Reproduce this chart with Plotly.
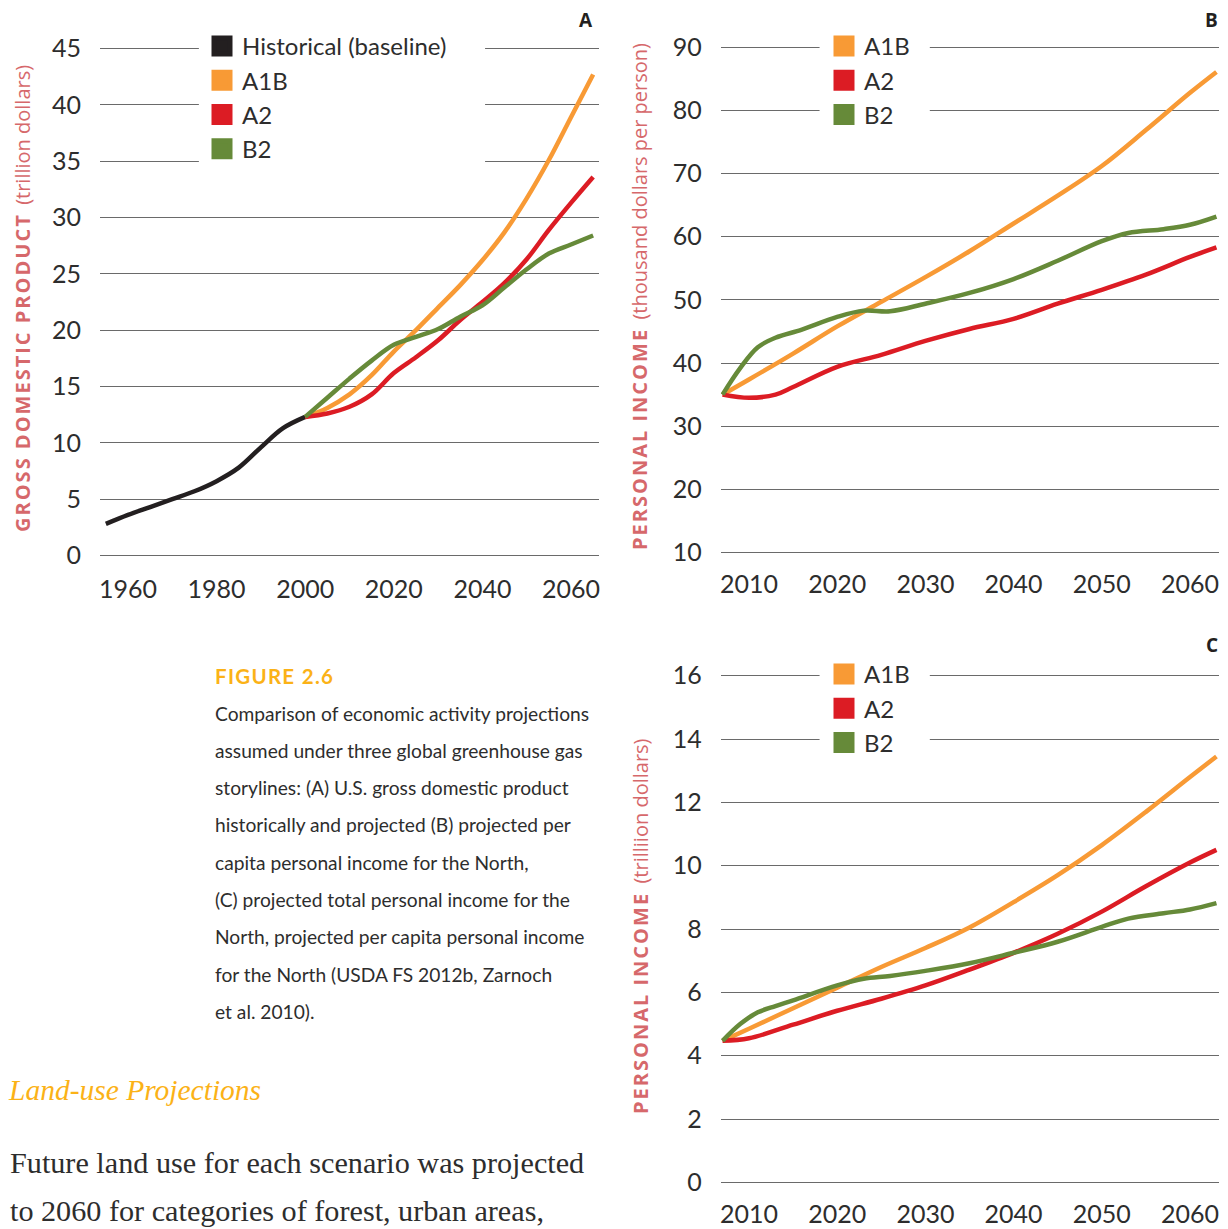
import plotly.graph_objects as go

W, H = 1228, 1229
PAGE_OFFSET = 8  # default page margin around the plot div

# ---------------- data ----------------
hist_years = [1955, 1960, 1965, 1970, 1975, 1980, 1985, 1990, 1995, 2000]
hist_gdp = [2.8, 3.6, 4.3, 5.0, 5.7, 6.6, 7.8, 9.6, 11.3, 12.3]

gdp_years = [2000, 2005, 2010, 2015, 2020, 2025, 2030, 2035, 2040, 2045, 2050, 2055, 2060, 2065]
gdp_a1b = [12.3, 13.1, 14.3, 16.0, 18.1, 20.0, 22.0, 24.0, 26.2, 28.7, 31.7, 35.1, 38.9, 42.7]
gdp_a2 = [12.3, 12.6, 13.2, 14.3, 16.2, 17.6, 19.1, 20.9, 22.5, 24.2, 26.3, 28.9, 31.3, 33.6]
gdp_b2 = [12.3, 14.0, 15.7, 17.3, 18.7, 19.4, 20.1, 21.2, 22.2, 23.8, 25.4, 26.8, 27.6, 28.4]

pc_a1b_years = [2007, 2010, 2015, 2020, 2025, 2030, 2035, 2040, 2045, 2050, 2055, 2060, 2063]
pc_a1b = [35.0, 37.4, 41.5, 45.8, 49.7, 53.6, 57.7, 62.1, 66.5, 71.2, 76.9, 82.8, 86.1]
pc_a2_years = [2007, 2010, 2013, 2015, 2020, 2025, 2030, 2035, 2040, 2045, 2050, 2055, 2060, 2063]
pc_a2 = [35.0, 34.5, 35.0, 36.2, 39.4, 41.3, 43.5, 45.4, 47.0, 49.4, 51.6, 54.0, 56.8, 58.3]
pc_b2_years = [2007, 2009, 2011, 2013, 2016, 2020, 2023, 2026, 2030, 2035, 2040, 2045, 2050, 2053, 2057, 2060, 2063]
pc_b2 = [35.0, 39.2, 42.5, 44.0, 45.3, 47.3, 48.3, 48.2, 49.4, 51.1, 53.3, 56.2, 59.3, 60.6, 61.2, 61.9, 63.2]

tot_a1b_years = [2007, 2010, 2015, 2020, 2025, 2030, 2035, 2040, 2045, 2050, 2055, 2060, 2063]
tot_a1b = [4.47, 4.85, 5.5, 6.15, 6.8, 7.4, 8.05, 8.85, 9.7, 10.65, 11.7, 12.8, 13.45]
tot_a2_years = [2007, 2010, 2015, 2020, 2025, 2030, 2035, 2040, 2045, 2050, 2055, 2060, 2063]
tot_a2 = [4.47, 4.55, 4.98, 5.42, 5.8, 6.22, 6.72, 7.25, 7.85, 8.55, 9.35, 10.1, 10.5]
tot_b2_years = [2007, 2009, 2011, 2013, 2015, 2020, 2023, 2026, 2030, 2035, 2040, 2045, 2050, 2053, 2057, 2060, 2063]
tot_b2 = [4.47, 5.0, 5.37, 5.57, 5.75, 6.22, 6.43, 6.52, 6.68, 6.92, 7.25, 7.6, 8.07, 8.33, 8.5, 8.62, 8.82]

ticks_a_x = [1960, 1980, 2000, 2020, 2040, 2060]
ticks_bc_x = [2010, 2020, 2030, 2040, 2050, 2060]

scenario_names = ["A1B", "A2", "B2"]
hist_name = "Historical (baseline)"

caption_title = "FIGURE 2.6"
caption_lines = [
    "Comparison of economic activity projections",
    "assumed under three global greenhouse gas",
    "storylines: (A) U.S. gross domestic product",
    "historically and projected (B) projected per",
    "capita personal income for the North,",
    "(C) projected total personal income for the",
    "North, projected per capita personal income",
    "for the North (USDA FS 2012b, Zarnoch",
    "et al. 2010).",
]
section_heading = "Land-use Projections"
body_lines = [
    "Future land use for each scenario was projected",
    "to 2060 for categories of forest, urban areas,",
]

# ---------------- style ----------------
C_HIST = "#231f20"
C_A1B = "#f89a35"
C_A2 = "#dc1c24"
C_B2 = "#668a39"
C_TITLE = "#d6686b"
C_GOLD = "#fbb217"
C_GRID = "#6a6a6a"
C_TEXT = "#2d2d2d"
SANS = "Lato, 'Liberation Sans', sans-serif"
LW = 4.5


def px_x(p):
    return (p - PAGE_OFFSET) / W


def px_y(p):
    return 1 - (p - PAGE_OFFSET) / H


def dom_from_pixels(p_a, v_a, p_b, v_b, lo, hi, vertical):
    ppu = (p_b - p_a) / (v_b - v_a)
    pl = p_a + (lo - v_a) * ppu
    ph = p_a + (hi - v_a) * ppu
    if vertical:
        return [px_y(pl), px_y(ph)]
    return [px_x(pl), px_x(ph)]


fig = go.Figure()

colors = [C_A1B, C_A2, C_B2]

# panel A
fig.add_trace(go.Scatter(x=hist_years, y=hist_gdp, mode="lines", line=dict(color=C_HIST, width=LW, shape="spline"),
                         showlegend=False, xaxis="x", yaxis="y"))
for ys, c in zip([gdp_a1b, gdp_a2, gdp_b2], colors):
    fig.add_trace(go.Scatter(x=gdp_years, y=ys, mode="lines", line=dict(color=c, width=LW, shape="spline"),
                             showlegend=False, xaxis="x", yaxis="y"))
# panel B
for xs, ys, c in zip([pc_a1b_years, pc_a2_years, pc_b2_years], [pc_a1b, pc_a2, pc_b2], colors):
    fig.add_trace(go.Scatter(x=xs, y=ys, mode="lines", line=dict(color=c, width=LW, shape="spline"),
                             showlegend=False, xaxis="x2", yaxis="y2"))
# panel C
for xs, ys, c in zip([tot_a1b_years, tot_a2_years, tot_b2_years], [tot_a1b, tot_a2, tot_b2], colors):
    fig.add_trace(go.Scatter(x=xs, y=ys, mode="lines", line=dict(color=c, width=LW, shape="spline"),
                             showlegend=False, xaxis="x3", yaxis="y3"))


def legend_entry(name, color, legend, xa, ya):
    fig.add_trace(go.Scatter(x=[None], y=[None], mode="markers", name=name,
                             marker=dict(symbol="square", size=16, color=color, line=dict(width=5, color=color)),
                             legend=legend, xaxis=xa, yaxis=ya, showlegend=True))


legend_entry(hist_name, C_HIST, "legend", "x", "y")
for n, c in zip(scenario_names, colors):
    legend_entry(n, c, "legend", "x", "y")
for n, c in zip(scenario_names, colors):
    legend_entry(n, c, "legend2", "x2", "y2")
for n, c in zip(scenario_names, colors):
    legend_entry(n, c, "legend3", "x3", "y3")

yax_common = dict(showgrid=True, gridcolor=C_GRID, gridwidth=1.2, zeroline=False, showline=False, ticks="",
                  tickfont=dict(family=SANS, size=25, color=C_TEXT), ticklabelstandoff=18, fixedrange=True,
                  automargin=False)
xax_common = dict(showgrid=False, zeroline=False, showline=False, ticks="",
                  tickfont=dict(family=SANS, size=25, color=C_TEXT), ticklabelstandoff=13, fixedrange=True,
                  automargin=False)

# panel A axes
xa_rng = [1953.7, 2066.3]
ya_rng = [-0.3, 45.3]
fig.update_layout(
    xaxis=dict(xax_common, range=xa_rng, tickvals=ticks_a_x,
               domain=dom_from_pixels(128, 1960, 571, 2060, xa_rng[0], xa_rng[1], False), anchor="y"),
    yaxis=dict(yax_common, range=ya_rng, dtick=5, tick0=0,
               domain=dom_from_pixels(555.5, 0, 48.5, 45, ya_rng[0], ya_rng[1], True), anchor="x"),
)
xb_rng = [2006.8, 2063.3]
yb_rng = [9.7, 90.3]
fig.update_layout(
    xaxis2=dict(xax_common, range=xb_rng, tickvals=ticks_bc_x,
                domain=dom_from_pixels(749, 2010, 1190, 2060, xb_rng[0], xb_rng[1], False), anchor="y2"),
    yaxis2=dict(yax_common, range=yb_rng, dtick=10, tick0=10,
                domain=dom_from_pixels(552.5, 10, 47.3, 90, yb_rng[0], yb_rng[1], True), anchor="x2"),
)
yc_rng = [-0.06, 16.06]
fig.update_layout(
    xaxis3=dict(xax_common, range=xb_rng, tickvals=ticks_bc_x,
                domain=dom_from_pixels(749, 2010, 1190, 2060, xb_rng[0], xb_rng[1], False), anchor="y3"),
    yaxis3=dict(yax_common, range=yc_rng, dtick=2, tick0=0,
                domain=dom_from_pixels(1182.4, 0, 675.7, 16, yc_rng[0], yc_rng[1], True), anchor="x3"),
)

leg_common = dict(bgcolor="white", borderwidth=0, font=dict(family=SANS, size=24, color=C_TEXT),
                  xanchor="left", yanchor="top", itemclick=False, itemdoubleclick=False)
fig.update_layout(
    legend=dict(leg_common, x=px_x(202), y=px_y(24)),
    legend2=dict(leg_common, x=px_x(824), y=px_y(24)),
    legend3=dict(leg_common, x=px_x(824), y=px_y(652)),
)

# white gaps in the gridlines behind each legend (drawn between grid and traces)
gap_shapes = [
    dict(type="rect", xref="x", yref="y", x0=1976.0, x1=2040.6, y0=32.5, y1=46.5),
    dict(type="rect", xref="x2", yref="y2", x0=2018.0, x1=2030.5, y0=75.0, y1=92.0),
    dict(type="rect", xref="x3", yref="y3", x0=2018.0, x1=2030.5, y0=13.0, y1=16.5),
]
for s in gap_shapes:
    s.update(fillcolor="white", line=dict(width=0), layer="between")
fig.update_layout(shapes=gap_shapes)

ann = []


def add_text(text, x, y, size, color, family, xanchor="left", yanchor="middle", angle=0):
    ann.append(dict(text=text, x=px_x(x), y=px_y(y), xref="paper", yref="paper", showarrow=False,
                    xanchor=xanchor, yanchor=yanchor, textangle=angle,
                    font=dict(family=family, size=size, color=color)))


HS = "\u200a"


def spaced(s):
    return HS.join(s)


TFONT = "'Open Sans', sans-serif"
# axis titles
add_text("<b>" + spaced("GROSS DOMESTIC PRODUCT") + "</b>\u00a0\u00a0(trillion dollars)", 22, 299, 20, C_TITLE,
         TFONT, xanchor="center", angle=-90)
add_text("<b>" + spaced("PERSONAL INCOME") + "</b>\u00a0\u00a0(thousand dollars per person)", 640, 297, 20, C_TITLE,
         TFONT, xanchor="center", angle=-90)
add_text("<b>" + spaced("PERSONAL INCOME") + "</b>\u00a0\u00a0(trilliion dollars)", 640, 926, 20, C_TITLE,
         TFONT, xanchor="center", angle=-90)

# panel letters
add_text("<b>A</b>", 595, 20, 19, C_HIST, TFONT, xanchor="right")
add_text("<b>B</b>", 1220, 20, 19, C_HIST, TFONT, xanchor="right")
add_text("<b>C</b>", 1220, 645, 19, C_HIST, TFONT, xanchor="right")

# caption
add_text("<b>" + HS.join(caption_title) + "</b>", 213, 676, 20.5, C_GOLD, SANS)
for i, line in enumerate(caption_lines):
    add_text(line, 213, 713 + i * 37.3, 19.2, C_TEXT, SANS)

add_text("<i>" + section_heading + "</i>", 6, 1090, 29.5, C_GOLD, "'Liberation Serif', serif")
for i, line in enumerate(body_lines):
    add_text(line, 8, 1163 + i * 47.5, 30.2, C_TEXT, "'Liberation Serif', serif")

fig.update_layout(
    annotations=ann,
    width=W, height=H,
    margin=dict(l=0, r=0, t=0, b=0, autoexpand=False),
    paper_bgcolor="white", plot_bgcolor="white",
)

fig.write_html("out.html")
